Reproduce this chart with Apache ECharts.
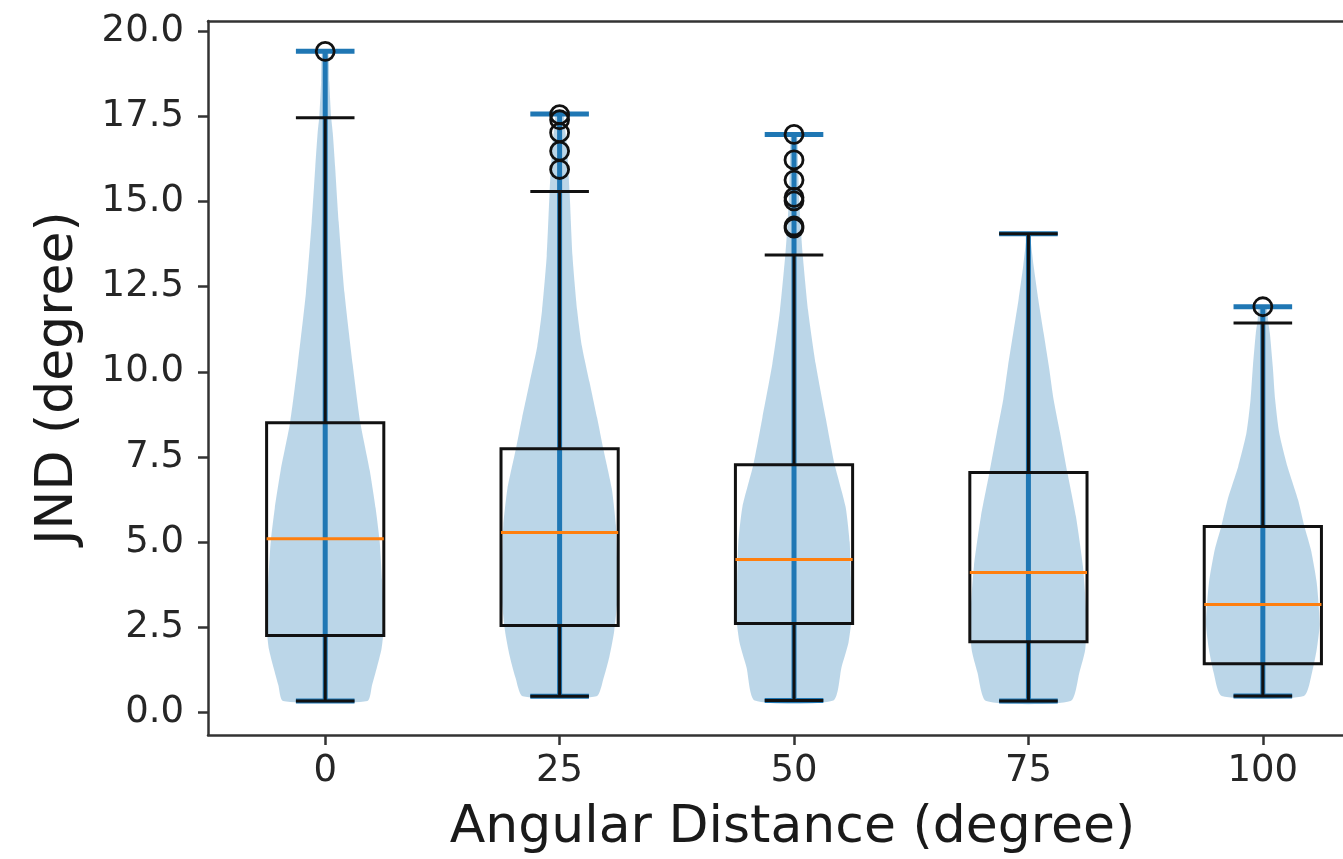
<!DOCTYPE html>
<html>
<head>
<meta charset="utf-8">
<script src="https://cdn.jsdelivr.net/npm/echarts@6/dist/echarts.min.js"></script>
<style>
  html, body { margin: 0; padding: 0; background: #fff; }
  #chart { width: 1343px; height: 859px; }
</style>
</head>
<body>
<div id="chart"></div>
<script>
// Angular distance groups (x tick labels)
const categories = ['0', '25', '50', '75', '100'];
const yTicks = [0, 2.5, 5, 7.5, 10, 12.5, 15, 17.5, 20];

// Box plot statistics per group
const whiskerLow  = [0.33, 0.47, 0.35, 0.33, 0.48];
const quartile1   = [2.26, 2.55, 2.61, 2.07, 1.43];
const medians     = [5.10, 5.28, 4.49, 4.11, 3.17];
const quartile3   = [8.50, 7.74, 7.27, 7.04, 5.46];
const whiskerHigh = [17.46, 15.29, 13.43, 14.05, 11.43];

// Violin extremes per group
const dataMin = [0.33, 0.47, 0.35, 0.33, 0.48];
const dataMax = [19.41, 17.57, 16.97, 14.05, 11.91];

// Outliers per group
const outliers0 = [19.41];
const outliers1 = [17.55, 17.40, 17.02, 16.48, 15.94];
const outliers2 = [16.97, 16.22, 15.63, 15.12, 15.02, 14.28, 14.22];
const outliers3 = [];
const outliers4 = [11.91];

// Violin density profiles: [JND value, relative half-width]
const density0 = [[0.33,0.72],[0.8,0.80],[1.3,0.88],[1.85,0.96],[2.3,0.99],[2.9,1.0],[3.9,0.97],[5.0,0.93],[6.0,0.86],[7.1,0.76],[8.5,0.60],[10.2,0.47],[12.3,0.33],[14.4,0.23],[16.0,0.17],[17.0,0.13],[17.5,0.10],[18.5,0.07],[19.41,0.05]];
const density1 = [[0.47,0.63],[1.0,0.75],[1.64,0.85],[2.37,0.93],[3.4,0.99],[4.5,0.98],[5.5,0.96],[6.57,0.89],[7.7,0.75],[8.65,0.64],[9.7,0.51],[10.76,0.38],[11.8,0.30],[13.4,0.22],[15.3,0.17],[16.5,0.13],[17.2,0.09],[17.57,0.06]];
const density2 = [[0.35,0.67],[1.32,0.81],[2.05,0.93],[2.9,0.99],[3.94,0.97],[5.0,0.95],[6.04,0.88],[7.3,0.69],[8.65,0.54],[10.23,0.37],[11.8,0.24],[13.4,0.15],[14.1,0.12],[15.0,0.09],[16.0,0.07],[16.97,0.05]];
const density3 = [[0.33,0.72],[1.17,0.87],[1.85,0.97],[2.82,0.99],[4.29,0.93],[5.76,0.81],[7.0,0.67],[8.2,0.54],[9.18,0.43],[10.15,0.35],[11.13,0.26],[12.1,0.17],[13.09,0.09],[14.05,0.02]];
const density4 = [[0.48,0.70],[1.17,0.84],[1.85,0.92],[2.6,0.97],[3.8,0.92],[4.78,0.82],[5.46,0.71],[6.25,0.60],[7.22,0.42],[8.2,0.28],[9.18,0.21],[10.15,0.17],[11.13,0.12],[11.5,0.09],[11.91,0.06]];

const densities = [density0, density1, density2, density3, density4];
const outlierLists = [outliers0, outliers1, outliers2, outliers3, outliers4];

const BLUE = '#1f77b4';
const INK = '#111';
const SPINE = '#333';
const FONT = 'DejaVu Sans';
const HALF = 0.25;      // half of the box / violin width in axis units
const CAP = 0.125;      // half of the cap length

const groupIndex = categories.map((_, i) => i);
const outlierPoints = [];
outlierLists.forEach((list, i) => list.forEach(v => outlierPoints.push([i + 1, v])));

function hLine(api, x0, x1, y, style) {
  const a = api.coord([x0, y]), b = api.coord([x1, y]);
  return { type: 'line', shape: { x1: a[0], y1: a[1], x2: b[0], y2: b[1] }, style: style };
}
function vLine(api, x, y0, y1, style) {
  const a = api.coord([x, y0]), b = api.coord([x, y1]);
  return { type: 'line', shape: { x1: a[0], y1: a[1], x2: b[0], y2: b[1] }, style: style };
}

const chart = echarts.init(document.getElementById('chart'), null, { renderer: 'canvas' });

// The axes run past the right edge of the canvas, so the x range stops
// where the canvas ends (group spacing stays the same).
const X_MIN = 0.5, X_MAX = 5.342;

chart.setOption({
  animation: false,
  backgroundColor: '#fff',
  grid: { left: 208, top: 21, right: 0, bottom: 123 },
  xAxis: [
    {
      type: 'value', min: X_MIN, max: X_MAX, position: 'bottom',
      name: 'Angular Distance (degree)', nameLocation: 'middle', nameGap: 67,
      // centred on the full axis span, part of which lies beyond the canvas
      nameTextStyle: { fontFamily: FONT, fontSize: 52, color: '#1a1a1a', padding: [0, 0, 0, 34] },
      axisLine: { show: true, onZero: false, lineStyle: { color: SPINE, width: 2.5 } },
      splitLine: { show: false },
      axisTick: { show: true, customValues: [1, 2, 3, 4, 5], length: 10, lineStyle: { color: SPINE, width: 2.5 } },
      axisLabel: {
        customValues: [1, 2, 3, 4, 5], margin: 18,
        fontFamily: FONT, fontSize: 37, color: '#262626',
        formatter: v => categories[Math.round(v) - 1]
      }
    },
    {
      // top spine
      type: 'value', min: X_MIN, max: X_MAX, position: 'top',
      axisLine: { show: true, onZero: false, lineStyle: { color: SPINE, width: 2.5 } },
      axisTick: { show: false }, axisLabel: { show: false }, splitLine: { show: false }
    }
  ],
  yAxis: {
    type: 'value', min: -0.665, max: 20.3,
    name: 'JND (degree)', nameLocation: 'middle', nameGap: 124, nameRotate: 90,
    nameTextStyle: { fontFamily: FONT, fontSize: 52, color: '#1a1a1a' },
    axisLine: { show: true, onZero: false, lineStyle: { color: SPINE, width: 2.5 } },
    splitLine: { show: false },
    axisTick: { show: true, customValues: yTicks, length: 10, lineStyle: { color: SPINE, width: 2.5 } },
    axisLabel: {
      customValues: yTicks, margin: 24,
      fontFamily: FONT, fontSize: 37, color: '#262626',
      formatter: v => v.toFixed(1)
    }
  },
  series: [
    {
      // violin bodies
      type: 'custom', z: 2, silent: true,
      data: groupIndex,
      renderItem: function (params, api) {
        const i = params.dataIndex, pos = i + 1, prof = densities[i];
        const left = prof.map(p => api.coord([pos - p[1] * HALF, p[0]]));
        const right = prof.slice().reverse().map(p => api.coord([pos + p[1] * HALF, p[0]]));
        return {
          type: 'polygon',
          shape: { points: left.concat(right), smooth: 0.2 },
          style: { fill: 'rgba(31,119,180,0.3)', stroke: null }
        };
      }
    },
    {
      // violin center bars and extrema
      type: 'custom', z: 3, silent: true,
      data: groupIndex,
      renderItem: function (params, api) {
        const i = params.dataIndex, pos = i + 1;
        const st = { stroke: BLUE, lineWidth: 5 };
        return {
          type: 'group',
          children: [
            vLine(api, pos, dataMin[i], dataMax[i], st),
            hLine(api, pos - CAP, pos + CAP, dataMin[i], st),
            hLine(api, pos - CAP, pos + CAP, dataMax[i], st)
          ]
        };
      }
    },
    {
      // box plots
      type: 'custom', z: 4, silent: true,
      data: groupIndex,
      renderItem: function (params, api) {
        const i = params.dataIndex, pos = i + 1;
        const st = { stroke: INK, lineWidth: 3 };
        const tl = api.coord([pos - HALF, quartile3[i]]);
        const br = api.coord([pos + HALF, quartile1[i]]);
        return {
          type: 'group',
          children: [
            vLine(api, pos, whiskerLow[i], quartile1[i], st),
            vLine(api, pos, quartile3[i], whiskerHigh[i], st),
            hLine(api, pos - CAP, pos + CAP, whiskerLow[i], st),
            hLine(api, pos - CAP, pos + CAP, whiskerHigh[i], st),
            {
              type: 'rect',
              shape: { x: tl[0], y: tl[1], width: br[0] - tl[0], height: br[1] - tl[1] },
              style: { fill: null, stroke: INK, lineWidth: 3 }
            },
            hLine(api, pos - HALF, pos + HALF, medians[i], { stroke: '#ff7f0e', lineWidth: 3 })
          ]
        };
      }
    },
    {
      // outliers
      type: 'scatter', z: 5, silent: true,
      data: outlierPoints,
      symbol: 'circle', symbolSize: 18,
      itemStyle: { color: 'rgba(0,0,0,0)', borderColor: INK, borderWidth: 2.8, opacity: 1 }
    }
  ]
});
</script>
</body>
</html>
